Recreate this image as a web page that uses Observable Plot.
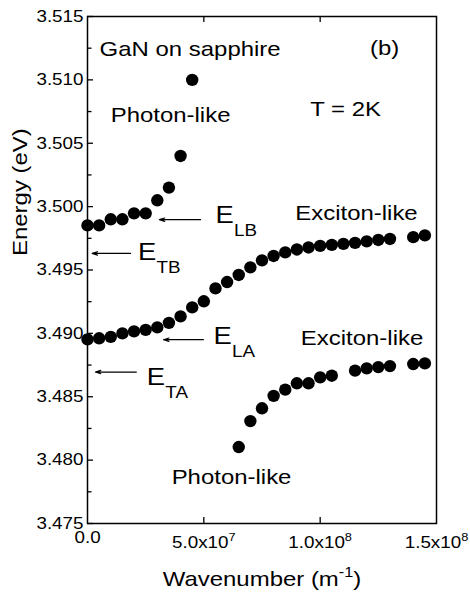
<!DOCTYPE html>
<html><head><meta charset="utf-8">
<script src="https://cdn.jsdelivr.net/npm/d3@7"></script>
<script src="https://cdn.jsdelivr.net/npm/@observablehq/plot@0.6"></script>
<style>html,body{margin:0;padding:0;background:#fff;}</style>
</head><body><div id="chart"></div>
<script>
// Upper polariton branch (photon-like near the top)
const upperK = [0, 0.5e7, 1.0e7, 1.5e7, 2.0e7, 2.5e7, 3.0e7, 3.5e7, 4.0e7, 4.5e7];
const upperE = [3.49852, 3.49852, 3.49900, 3.49900, 3.49947, 3.49947, 3.50050, 3.50150, 3.50400, 3.51000];
// Middle branch
const middleK = [0, 0.5e7, 1.0e7, 1.5e7, 2.0e7, 2.5e7, 3.0e7, 3.5e7, 4.0e7, 4.5e7,
  5.0e7, 5.5e7, 6.0e7, 6.5e7, 7.0e7, 7.5e7, 8.0e7, 8.5e7, 9.0e7, 9.5e7,
  1.0e8, 1.05e8, 1.1e8, 1.15e8, 1.2e8, 1.25e8, 1.3e8, 1.4e8, 1.45e8];
const middleE = [3.48953, 3.48961, 3.48972, 3.49000, 3.49016, 3.49028, 3.49047, 3.49083, 3.49134, 3.49205,
  3.49253, 3.49355, 3.49405, 3.49461, 3.49521, 3.49576, 3.49611, 3.49639, 3.49662, 3.49678,
  3.49690, 3.49698, 3.49706, 3.49714, 3.49726, 3.49737, 3.49745, 3.49759, 3.49773];
// Lower branch
const lowerK = [6.5e7, 7.0e7, 7.5e7, 8.0e7, 8.5e7, 9.0e7, 9.5e7, 1.0e8, 1.05e8, 1.15e8, 1.2e8, 1.25e8, 1.3e8, 1.4e8, 1.45e8];
const lowerE = [3.48103, 3.48308, 3.48409, 3.48507, 3.48556, 3.48606, 3.48606, 3.48653, 3.48666, 3.48706, 3.48724, 3.48734, 3.48742, 3.48758, 3.48763];

// Axis ticks
const yMajor = [3.475, 3.480, 3.485, 3.490, 3.495, 3.500, 3.505, 3.510, 3.515];
const yMinor = [3.4775, 3.4825, 3.4875, 3.4925, 3.4975, 3.5025, 3.5075, 3.5125];
const xTicks = [0, 5e7, 1e8, 1.5e8];
const xTickLabels = ["0.0", "5.0x10^7", "1.0x10^8", "1.5x10^8"];
const xInnerTicks = [5e7, 1e8];

// Text annotations (centre positions in data units)
const noteText = ["GaN on sapphire", "(b)", "Photon-like", "T = 2K", "Exciton-like", "Exciton-like", "Photon-like"];
const noteK = [4.41e7, 1.277e8, 3.57e7, 1.109e8, 1.156e8, 1.18e8, 6.19e7];
const noteE = [3.51245, 3.51250, 3.50719, 3.50772, 3.49944, 3.48965, 3.47867];

// Energy level markers (arrows) and their labels
const levelSub = ["LB", "TB", "LA", "TA"];
const levelE = [3.49897, 3.49631, 3.48950, 3.48695];
const arrowTail = [4.86e7, 1.85e7, 4.98e7, 2.10e7];
const arrowHead = [3.09e7, 0.20e7, 3.27e7, 0.34e7];
const labelK = [5.50e7, 2.17e7, 5.42e7, 2.55e7];
const labelE = [3.49930, 3.49639, 3.48976, 3.48653];

const FONT = "'Liberation Sans', Arial, Helvetica, sans-serif";
const STRETCH = 1.14;
const W = 470, H = 594, ML = 87, MR = 34, MT = 16, MB = 71;
const FW = W - ML - MR, FH = H - MT - MB;

const pts = [
  ...upperK.map((k, i) => ({k, e: upperE[i]})),
  ...middleK.map((k, i) => ({k, e: middleE[i]})),
  ...lowerK.map((k, i) => ({k, e: lowerE[i]}))
];
const notes = noteText.map((t, i) => ({t, k: noteK[i], e: noteE[i]}));
const levels = levelSub.map((s, i) => ({s, e: levelE[i], x1: arrowTail[i], x2: arrowHead[i], lk: labelK[i], le: labelE[i]}));
const xt = xTicks.map((v, i) => ({v, t: xTickLabels[i]}));

const tk = {stroke: "black", strokeWidth: 1.3};

const chart = Plot.plot({
  width: W, height: H,
  marginLeft: ML, marginRight: MR, marginTop: MT, marginBottom: MB,
  style: {fontFamily: FONT, fontSize: "16.5px", color: "black", background: "white", overflow: "visible"},
  x: {domain: [0, 1.5e8], axis: null},
  y: {domain: [3.475, 3.515], axis: null},
  marks: [
    // inward ticks
    Plot.tickY(yMinor, {y: d => d, insetRight: FW - 4.5, ...tk}),
    Plot.tickY(yMajor, {y: d => d, insetRight: FW - 6, ...tk}),
    Plot.tickX(xInnerTicks, {x: d => d, insetTop: FH - 6, ...tk}),
    Plot.tickX(xInnerTicks, {x: d => d, insetBottom: FH - 6, ...tk}),
    Plot.frame({stroke: "black", strokeWidth: 1.5}),
    Plot.text(yMajor, {y: d => d, text: d => d3.format(".3f")(d), frameAnchor: "left", dx: -4, textAnchor: "end", lineAnchor: "middle", fontSize: 16.5}),
    Plot.text(xt.slice(0, 1), {x: "v", text: "t", frameAnchor: "bottom", dy: 14.5, lineAnchor: "middle", fontSize: 16.5}),
    Plot.text(xt.slice(1), {x: "v", text: "t", frameAnchor: "bottom", dy: 19, lineAnchor: "middle", fontSize: 16.5}),
    Plot.text(["Energy (eV)"], {text: d => d, frameAnchor: "left", rotate: -90, dx: -67, dy: -14, lineAnchor: "middle", fontSize: 21}),
    Plot.text(["Wavenumber (m^{-1})"], {text: d => d, frameAnchor: "bottom", dy: 56, lineAnchor: "middle", fontSize: 21}),
    Plot.dot(pts, {x: "k", y: "e", r: 6.2, fill: "black", stroke: "none"}),
    Plot.text(notes, {x: "k", y: "e", text: "t", lineAnchor: "middle", fontSize: 21}),
    Plot.arrow(levels, {x1: "x1", x2: "x2", y1: "e", y2: "e", stroke: "black", strokeWidth: 1.2, headLength: 7, headAngle: 35}),
    Plot.text(levels, {x: "lk", y: "le", text: () => "E", textAnchor: "start", lineAnchor: "middle", fontSize: 24}),
    Plot.text(levels, {x: "lk", y: "le", text: "s", textAnchor: "start", lineAnchor: "middle", fontSize: 16.5, dx: 18.5, dy: 15})
  ]
});

document.getElementById("chart").appendChild(chart);

// superscripts: "a^7" or "a^{-1}"
chart.querySelectorAll("text").forEach(t => {
  const s = t.textContent;
  if (!s.includes("^")) return;
  const m = s.match(/^(.*?)\^(?:\{([^}]*)\}|(\S))(.*)$/);
  if (!m) return;
  const fs = parseFloat(getComputedStyle(t).fontSize);
  const sup = m[2] !== undefined ? m[2] : m[3];
  const rise = fs * 0.42;
  t.textContent = "";
  const ns = "http://www.w3.org/2000/svg";
  const a = document.createElementNS(ns, "tspan"); a.textContent = m[1]; t.appendChild(a);
  const b = document.createElementNS(ns, "tspan"); b.textContent = sup;
  b.setAttribute("dy", -rise); b.setAttribute("font-size", fs * 0.68); t.appendChild(b);
  if (m[4]) { const c = document.createElementNS(ns, "tspan"); c.textContent = m[4]; c.setAttribute("dy", rise); t.appendChild(c); }
});
// horizontal stretch of the lettering, as in the reference
chart.querySelectorAll("text").forEach(t => {
  const L = t.getComputedTextLength();
  if (L > 0) { t.setAttribute("textLength", L * STRETCH); t.setAttribute("lengthAdjust", "spacingAndGlyphs"); }
});
</script>
</body></html>
